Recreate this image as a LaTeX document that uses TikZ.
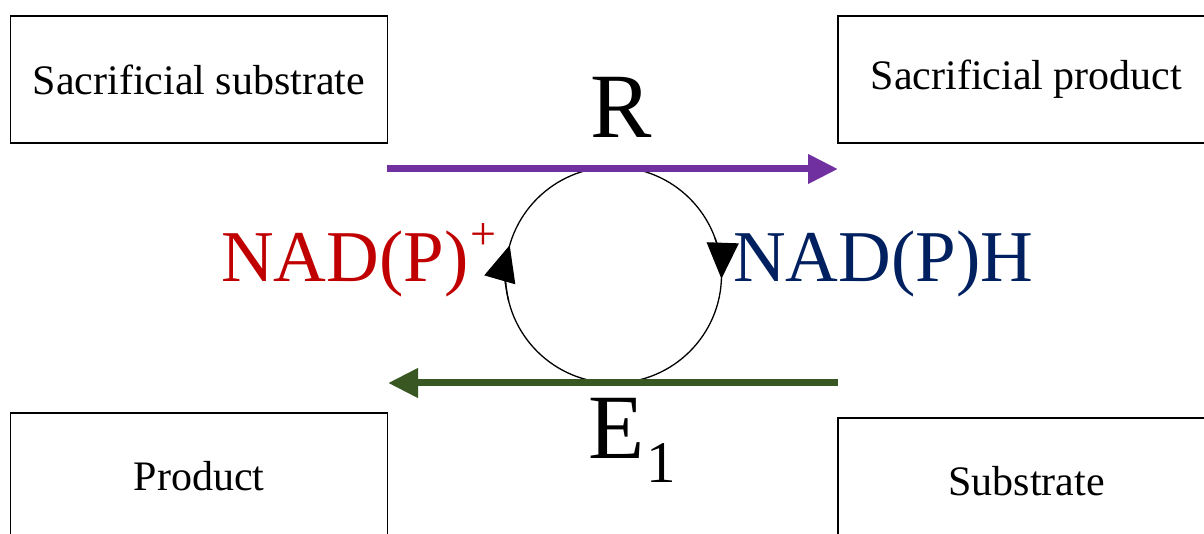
\documentclass[tikz,border=0pt]{standalone}
\usepackage{fontspec}
\setmainfont{Liberation Serif}
\newfontfamily\timesfont{Liberation Serif}
\usetikzlibrary{arrows.meta}
\definecolor{rpurple}{HTML}{7030A0}
\definecolor{egreen}{HTML}{385723}
\definecolor{oxred}{HTML}{C00000}
\definecolor{redblue}{HTML}{002060}
\tikzset{
  boxnode/.style={draw,line width=1.3pt,minimum width=377pt,minimum height=127pt,inner sep=0pt,font=\timesfont\fontsize{42}{50}\selectfont},
  cofactor/.style={inner sep=0pt,anchor=base west,font=\timesfont\fontsize{73}{88}\selectfont},
  enzyme/.style={inner sep=0pt,font=\timesfont\fontsize{92}{110}\selectfont},
  flowarrow/.style={line width=7pt,-{Triangle[length=30pt,width=28pt]}},
  looptip/.style={line width=1.3pt,-{Triangle[length=36pt,width=32pt]}}
}

\begin{document}
\begin{tikzpicture}[x=1pt,y=1pt]
  \path [use as bounding box,clip] (0,0) rectangle (1204,533);
  \node [boxnode] (sacsub) at (199,453.5) {Sacrificial substrate};
  \node [boxnode] (sacprod) at (1026.5,453.5) {Sacrificial product};
  \node [boxnode] (prod) at (199,56.5) {Product};
  \node [boxnode] (sub) at (1026.5,51.5) {Substrate};
  \node [draw,circle,line width=1.3pt,minimum size=216pt,inner sep=0pt] (loop) at (613.5,258) {};
  \draw [looptip] ([shift={(194:108)}]loop.center) arc (194:164:108);
  \draw [looptip] ([shift={(20:108)}]loop.center) arc (20:-2:108);
  \coordinate (rtail) at (387,364);
  \coordinate (rhead) at (838,364);
  \coordinate (etail) at (838,150);
  \coordinate (ehead) at (388,150);
  \draw [flowarrow,rpurple] (rtail) -- (rhead);
  \draw [flowarrow,egreen] (etail) -- (ehead);
  \node [enzyme,anchor=base] (rlabel) at (621,395) {R};
  \node [enzyme,anchor=base west] (elabel) at (588,75) {E\kern2pt\raisebox{-24pt}{\fontsize{59}{59}\selectfont 1}};
  \node [cofactor,oxred] (oxid) at (221,251) {NAD(P)\kern2pt\raisebox{32pt}{\fontsize{46}{46}\selectfont +}};
  \node [cofactor,redblue] (redu) at (733,251) {NAD(P)H};
\end{tikzpicture}
\end{document}
